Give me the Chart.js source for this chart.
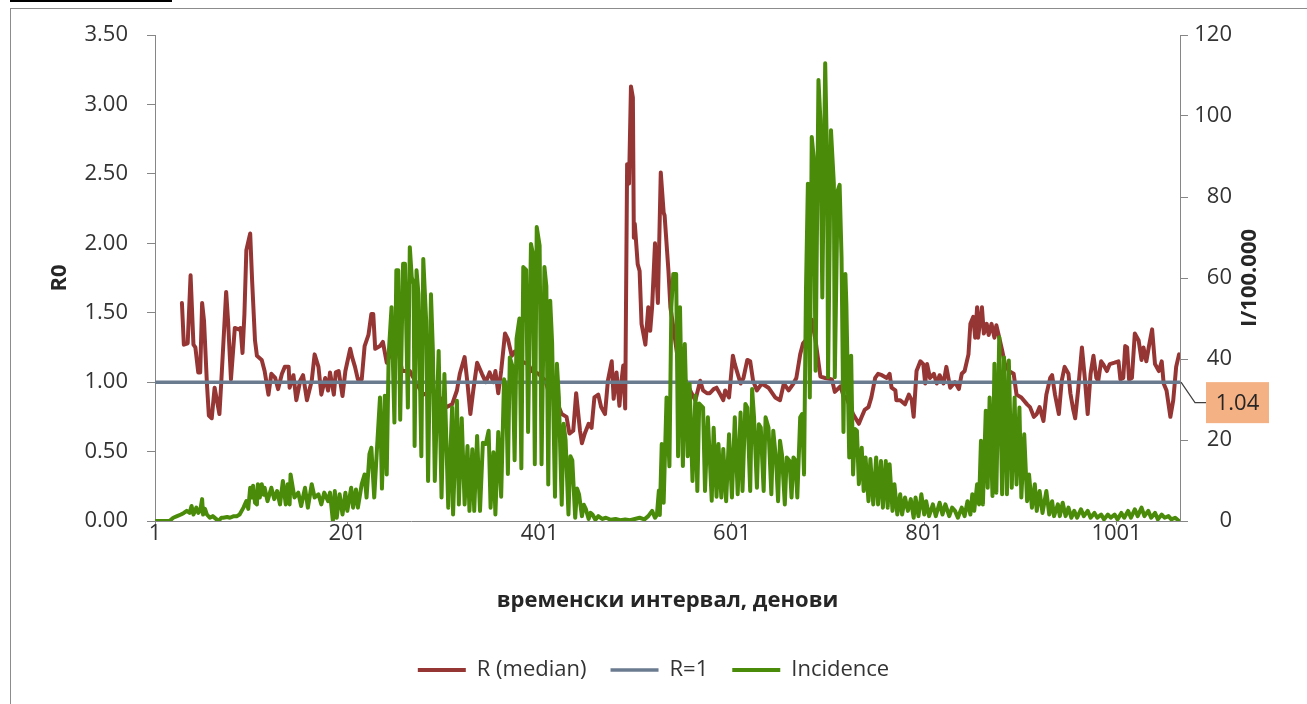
<!DOCTYPE html>
<html>
<head>
<meta charset="utf-8">
<script src="https://cdn.jsdelivr.net/npm/chart.js@4.4.0/dist/chart.umd.min.js"></script>
<style>
  html, body { margin: 0; padding: 0; background: #fff; }
  body { width: 1307px; height: 704px; position: relative; overflow: hidden; }
  #stub { position: absolute; left: 10px; top: 0; width: 162px; height: 2px; background: #000; }
  #frame { position: absolute; left: 10px; top: 8px; width: 1400px; height: 800px;
           border-left: 1px solid #8c8c8c; border-top: 1px solid #8c8c8c; }
  #wrap { position: absolute; left: 0; top: 0; width: 1307px; height: 704px; }
</style>
</head>
<body>
<div id="stub"></div>
<div id="frame"></div>
<div id="wrap"><canvas id="chart"></canvas></div>
<script>
// x axis: days
const xTickLabels = [1, 201, 401, 601, 801, 1001];
const firstDay = 1;
const lastDay = 1067;

// R (median)
const rDays = [
  29, 31, 35, 38, 41, 43, 46, 48, 50, 52,
  55, 57, 60, 63, 68, 70, 75, 77, 80, 84,
  88, 90, 92, 94, 96, 100, 102, 105, 107, 112,
  115, 119, 122, 126, 129, 133, 136, 140, 141, 145,
  148, 152, 155, 159, 164, 167, 171, 174, 178, 181,
  183, 187, 189, 192, 196, 199, 204, 206, 209, 212,
  216, 219, 223, 226, 228, 230, 235, 238, 242, 252,
  258, 266, 273, 280, 290, 297, 304, 310, 315, 318,
  323, 326, 329, 332, 336, 341, 345, 349, 353, 355,
  358, 361, 365, 368, 372, 375, 382, 389, 393, 400,
  407, 410, 417, 424, 429, 432, 436, 439, 443, 445,
  448, 452, 455, 458, 462, 465, 469, 472, 476, 478,
  481, 484, 486, 488, 490, 492, 494, 496, 498, 499,
  500, 503, 505, 507, 511, 514, 516, 518, 521, 524,
  527, 530, 531, 535, 537, 541, 545, 550, 555, 559,
  563, 568, 571, 575, 578, 582, 585, 589, 592, 594,
  598, 602, 604, 610, 613, 617, 620, 623, 627, 632,
  639, 646, 651, 655, 660, 665, 668, 672, 675, 680,
  684, 688, 693, 698, 705, 708, 714, 717, 720, 727,
  733, 736, 739, 743, 746, 750, 753, 757, 762, 765,
  767, 771, 772, 776, 781, 785, 788, 790, 793, 797,
  800, 802, 804, 807, 811, 814, 817, 821, 824, 828,
  833, 837, 840, 843, 847, 849, 852, 854, 856, 857,
  861, 863, 866, 868, 871, 874, 876, 878, 882, 885,
  889, 894, 897, 902, 908, 911, 915, 918, 921, 925,
  928, 932, 934, 937, 941, 944, 947, 951, 953, 956,
  958, 961, 965, 968, 971, 974, 977, 980, 982, 985,
  987, 991, 994, 999, 1003, 1005, 1008, 1010, 1012, 1014,
  1017, 1020, 1024, 1027, 1029, 1032, 1035, 1038, 1041, 1045,
  1048, 1050, 1053, 1057, 1060, 1063, 1066
];
const rValues = [
  1.57, 1.27, 1.28, 1.77, 1.27, 1.25, 1.07, 1.07, 1.57, 1.44,
  0.99, 0.76, 0.74, 0.96, 0.77, 1.01, 1.65, 1.44, 1.02, 1.39,
  1.38, 1.39, 1.21, 1.49, 1.95, 2.07, 1.73, 1.30, 1.19, 1.16,
  1.08, 0.91, 1.06, 1.03, 0.95, 1.06, 1.11, 1.11, 0.96, 1.05,
  0.87, 1.01, 1.05, 0.87, 1.01, 1.20, 1.11, 0.91, 1.03, 0.94,
  1.07, 0.91, 1.07, 1.08, 0.90, 1.08, 1.24, 1.18, 1.11, 1.02,
  1.02, 1.26, 1.34, 1.49, 1.49, 1.24, 1.26, 1.29, 1.14, 1.30,
  1.08, 1.08, 0.99, 0.91, 0.94, 0.89, 0.82, 0.84, 0.94, 1.06,
  1.18, 0.99, 0.77, 0.94, 1.14, 1.06, 1.00, 1.07, 1.00, 1.08,
  0.92, 1.08, 1.35, 1.31, 1.19, 1.22, 1.15, 1.13, 1.08, 1.06,
  1.01, 0.94, 0.89, 0.77, 0.75, 0.63, 0.65, 0.92, 0.65, 0.56,
  0.63, 0.70, 0.67, 0.89, 0.91, 0.82, 0.77, 1.01, 1.15, 0.88,
  1.07, 0.83, 1.00, 1.12, 0.81, 2.57, 2.43, 3.13, 3.05, 2.04,
  2.14, 1.85, 1.80, 1.42, 1.27, 1.54, 1.37, 1.54, 2.00, 1.57,
  2.51, 2.22, 2.20, 1.80, 1.54, 1.35, 1.15, 1.05, 0.98, 0.92,
  0.87, 1.01, 0.94, 0.92, 0.92, 0.95, 0.96, 0.91, 0.87, 0.94,
  0.89, 1.19, 1.13, 0.99, 1.03, 1.16, 1.15, 1.01, 0.94, 0.99,
  0.96, 0.89, 0.87, 0.99, 0.94, 0.99, 1.03, 1.20, 1.28, 1.32,
  1.45, 1.30, 1.04, 1.03, 1.02, 0.93, 0.97, 0.90, 0.89, 0.77,
  0.70, 0.75, 0.80, 0.82, 0.89, 1.03, 1.06, 1.05, 1.03, 1.06,
  0.96, 0.94, 0.87, 0.87, 0.84, 0.91, 0.87, 0.75, 1.08, 1.15,
  1.13, 0.99, 1.13, 1.03, 1.06, 0.99, 1.05, 0.99, 1.11, 0.96,
  1.00, 0.95, 1.06, 1.08, 1.20, 1.42, 1.47, 1.32, 1.54, 1.32,
  1.54, 1.35, 1.42, 1.34, 1.42, 1.32, 1.41, 1.35, 1.23, 1.13,
  1.08, 1.06, 0.91, 0.89, 0.84, 0.82, 0.75, 0.77, 0.82, 0.72,
  0.91, 1.03, 1.05, 0.91, 0.77, 1.01, 1.11, 1.06, 0.92, 0.80,
  0.74, 0.94, 1.25, 1.03, 0.77, 1.06, 1.19, 1.03, 1.01, 1.15,
  1.13, 1.08, 1.13, 1.14, 1.15, 1.02, 1.03, 1.26, 1.25, 1.02,
  1.03, 1.35, 1.30, 1.16, 1.25, 1.15, 1.27, 1.38, 1.13, 1.08,
  1.15, 0.99, 0.94, 0.75, 0.87, 1.11, 1.20
];

// R = 1 reference line
const rOneDays = [1, 1067];
const rOneValues = [1, 1];

// Incidence per 100.000 (right axis)
const incDays = [
  1, 16, 20, 24, 28, 31, 34, 37, 39, 41,
  44, 46, 48, 50, 51, 53, 55, 58, 61, 65,
  67, 70, 72, 76, 79, 83, 86, 89, 93, 96,
  98, 100, 102, 103, 105, 107, 108, 110, 112, 114,
  115, 118, 122, 125, 128, 131, 134, 137, 139, 141,
  142, 146, 150, 153, 157, 160, 164, 167, 171, 174,
  177, 181, 183, 186, 188, 190, 193, 196, 199, 201,
  205, 207, 210, 212, 216, 219, 221, 224, 226, 229,
  232, 235, 237, 240, 242, 244, 247, 250, 252, 254,
  256, 259, 261, 264, 266, 268, 270, 271, 273, 275,
  278, 280, 283, 285, 288, 290, 292, 296, 299, 302,
  306, 310, 311, 315, 317, 320, 323, 326, 328, 331,
  333, 336, 339, 342, 345, 348, 350, 353, 355, 358,
  361, 364, 366, 368, 370, 373, 375, 377, 380, 382,
  384, 387, 389, 392, 394, 396, 398, 401, 403, 406,
  408, 410, 412, 414, 417, 419, 421, 424, 426, 428,
  431, 433, 435, 438, 440, 442, 445, 447, 449, 452,
  454, 456, 459, 462, 466, 470, 475, 480, 485, 490,
  495, 500, 505, 510, 514, 518, 521, 523, 525, 526,
  528, 530, 533, 536, 538, 540, 543, 545, 547, 550,
  552, 555, 557, 560, 563, 565, 567, 571, 573, 576,
  580, 582, 585, 587, 590, 592, 595, 598, 601, 604,
  607, 610, 612, 615, 617, 620, 622, 624, 627, 629,
  631, 634, 636, 639, 642, 644, 647, 649, 651, 653,
  656, 658, 661, 663, 665, 667, 669, 672, 674, 676,
  678, 680, 682, 684, 686, 688, 691, 693, 695, 698,
  700, 701, 704, 707, 708, 711, 713, 715, 717, 719,
  720, 723, 725, 727, 729, 731, 733, 736, 738, 740,
  743, 745, 748, 751, 753, 756, 758, 761, 763, 765,
  768, 770, 773, 776, 778, 781, 784, 787, 790, 792,
  795, 798, 801, 803, 806, 810, 813, 817, 820, 823,
  827, 830, 833, 836, 840, 843, 846, 849, 851, 853,
  856, 858, 860, 862, 865, 867, 869, 872, 874, 876,
  879, 882, 884, 887, 889, 892, 895, 897, 900, 902,
  905, 908, 910, 913, 916, 918, 921, 924, 928, 931,
  934, 936, 940, 942, 945, 948, 951, 954, 957, 960,
  964, 967, 971, 974, 978, 981, 985, 988, 992, 995,
  999, 1002, 1006, 1009, 1013, 1016, 1020, 1023, 1027, 1030,
  1034, 1037, 1041, 1044, 1048, 1051, 1055, 1058, 1062, 1066
];
const incValues = [
  0, 0, 0.8, 1.2, 1.6, 2.0, 2.5, 2.0, 3.7, 1.6,
  3.3, 2.0, 2.5, 5.4, 1.6, 3.0, 1.6, 0.8, 1.2, 0.4,
  0, 0.8, 0.8, 1.0, 0.8, 1.2, 1.2, 1.6, 3.3, 4.9,
  3.0, 8.2, 5.8, 8.7, 4.5, 4.1, 9.1, 5.8, 9.1, 6.5,
  8.2, 4.9, 8.2, 5.4, 7.4, 4.1, 9.9, 4.1, 9.1, 4.1,
  11.5, 5.8, 7.0, 3.7, 8.2, 3.3, 9.1, 5.8, 6.6, 4.1,
  7.0, 4.9, 7.0, 0, 7.4, 0.8, 6.6, 1.6, 7.0, 2.5,
  8.2, 3.3, 7.8, 3.3, 9.1, 11.5, 5.8, 16.5, 18.1, 5.8,
  18.5, 30.5, 8.0, 30.9, 11.5, 41, 52.8, 24.3, 61.9, 61.9,
  25, 63.5, 63.5, 28, 67.6, 60.2, 58.5, 18.5, 61.9, 56,
  16, 64.7, 49.5, 9.9, 56, 42, 9.9, 42, 5.8, 36.3,
  3.3, 28, 1.6, 29.7, 4.1, 25.4, 4.1, 18.5, 2.5, 17.7,
  2.5, 21, 2.5, 19.3, 19, 22.3, 3.3, 17, 1.6, 22,
  6, 35, 33, 11.6, 40.4, 38, 15, 45, 50, 13,
  62.7, 62, 22, 68.4, 66, 14, 72.6, 68, 14, 62.7,
  58, 9, 54.4, 44, 6, 38.8, 30.5, 4, 24, 20,
  1.6, 16, 15, 0.8, 8, 6.6, 1.2, 4, 3, 0.5,
  2, 1.6, 0.3, 1.2, 0.5, 0.8, 0.3, 0.5, 0.2, 0.4,
  0.2, 0.5, 0.8, 0.4, 1.2, 2.5, 0.8, 1.5, 7.5, 1.5,
  19, 4.5, 30.5, 13.5, 52.8, 61, 61, 16, 52.8, 13.6,
  43.7, 16, 33.8, 9.9, 31, 7.4, 29, 28, 7.4, 25.6,
  5, 23, 6, 19, 5.8, 17.8, 4.9, 21.4, 5.8, 25.6,
  6.6, 26.8, 7.4, 28.9, 28, 7.4, 32.6, 25.6, 8.2, 23.9,
  23.1, 7.4, 25.6, 23.1, 6.6, 22.3, 14.8, 4.9, 19.8, 16.5,
  4.1, 15.7, 14.8, 5.8, 15.7, 15, 5.8, 25.6, 26.4, 11.5,
  56.9, 83.3, 30.5, 94.8, 89.9, 37.1, 108.9, 99, 55.2, 113,
  88.2, 35.5, 96.5, 83.3, 35.5, 81.6, 83, 65, 22, 61,
  53.6, 15.7, 40.8, 11.5, 22.7, 22.3, 9.1, 18.1, 7.4, 15.7,
  4.9, 15.3, 4.1, 15.7, 4.1, 14.8, 3.3, 14.8, 3.3, 14,
  2.5, 9.1, 1.6, 6.6, 1.6, 5.8, 2.5, 5.4, 0.8, 5.8,
  1.2, 6.6, 1.6, 4.9, 1.2, 4.1, 1.2, 4.5, 1.6, 4.1,
  1.2, 3.3, 2.5, 0.8, 3.3, 1.2, 4.9, 1.6, 6.6, 2.5,
  9.1, 4.1, 19.8, 4.1, 27.2, 8.2, 30.5, 6.2, 38.8, 7,
  45.4, 6.6, 40.4, 6.6, 39.6, 8.2, 30.5, 9, 28, 5.8,
  21.4, 4.9, 11.5, 3.3, 9.1, 2.5, 7.4, 2, 7.4, 1.6,
  4.9, 1.2, 4.1, 1.2, 4.5, 1.2, 3.3, 0.8, 2.5, 0.8,
  2.9, 1.2, 2.5, 0.8, 2.0, 0.8, 1.6, 0.4, 1.6, 0.8,
  1.6, 0.4, 2.0, 0.8, 2.5, 0.8, 2.9, 1.2, 3.3, 1.2,
  2.5, 0.8, 2.0, 0.4, 1.6, 0.8, 1.2, 0.4, 0.8, 0
];

// value shown in the orange data label
const lastLabel = 1.04;

const fontFamily = '"Open Sans", "Noto Sans", sans-serif';
const axisColor = '#868686';
const textColor = '#333333';

Chart.defaults.font.family = fontFamily;
Chart.defaults.font.size = 22;
Chart.defaults.color = textColor;

function toPoints(days, values) {
    return days.map((d, i) => ({ x: d, y: values[i] }));
}

function drawRotated(ctx, text, x, y) {
    ctx.save();
    ctx.translate(x, y);
    ctx.rotate(-Math.PI / 2);
    ctx.fillText(text, 0, 0);
    ctx.restore();
}

// axis titles on the sides and the data label at the end of R=1
const sideText = {
    id: 'sideText',
    afterDraw(chart) {
        const ctx = chart.ctx;
        const area = chart.chartArea;
        const midY = (area.top + area.bottom) / 2;
        ctx.save();
        ctx.fillStyle = '#262626';
        ctx.font = 'bold 22px ' + fontFamily;
        ctx.textAlign = 'center';
        ctx.textBaseline = 'middle';
        drawRotated(ctx, 'R0', 60, midY);
        drawRotated(ctx, 'I/100.000', 1250, midY);

        const meta = chart.getDatasetMeta(1);
        const pt = meta.data[meta.data.length - 1];
        const boxX = pt.x + 26, boxY = pt.y, boxW = 63, boxH = 41;
        ctx.strokeStyle = '#404040';
        ctx.lineWidth = 1.2;
        ctx.beginPath();
        ctx.moveTo(pt.x + 1, pt.y);
        ctx.lineTo(pt.x + 15, boxY + boxH / 2);
        ctx.lineTo(boxX, boxY + boxH / 2);
        ctx.stroke();
        ctx.fillStyle = '#f4b183';
        ctx.fillRect(boxX, boxY, boxW, boxH);
        ctx.fillStyle = '#262626';
        ctx.font = '22px ' + fontFamily;
        ctx.fillText(lastLabel.toFixed(2), boxX + boxW / 2, boxY + boxH / 2 + 1);
        ctx.restore();
    }
};

const lineStyle = {
    pointRadius: 0,
    tension: 0,
    borderJoinStyle: 'round',
    borderCapStyle: 'round'
};

new Chart(document.getElementById('chart'), {
    type: 'line',
    data: {
        datasets: [
            Object.assign({
                label: 'R (median)',
                data: toPoints(rDays, rValues),
                borderColor: '#963634',
                backgroundColor: '#963634',
                borderWidth: 4,
                yAxisID: 'y',
                order: 3
            }, lineStyle),
            Object.assign({
                label: 'R=1',
                data: toPoints(rOneDays, rOneValues),
                borderColor: '#6b7b8f',
                backgroundColor: '#6b7b8f',
                borderWidth: 3.5,
                yAxisID: 'y',
                order: 2
            }, lineStyle),
            Object.assign({
                label: 'Incidence',
                data: toPoints(incDays, incValues),
                borderColor: '#4a8c0a',
                backgroundColor: '#4a8c0a',
                borderWidth: 4,
                yAxisID: 'y2',
                order: 1
            }, lineStyle)
        ]
    },
    options: {
        responsive: true,
        maintainAspectRatio: false,
        animation: false,
        events: [],
        layout: {
            padding: { left: 75, right: 75, top: 35, bottom: 13 }
        },
        scales: {
            x: {
                type: 'linear',
                min: firstDay,
                max: lastDay,
                afterBuildTicks: (scale) => {
                    scale.ticks = xTickLabels.map(v => ({ value: v }));
                },
                afterFit: (scale) => { scale.height = 114; },
                ticks: {
                    autoSkip: false,
                    maxRotation: 0,
                    padding: -4,
                    color: textColor,
                    callback: (v) => String(v)
                },
                grid: { drawOnChartArea: false, tickLength: 4, color: axisColor },
                border: { color: axisColor, width: 1 },
                title: {
                    display: true,
                    text: 'временски интервал, денови',
                    color: '#262626',
                    font: { weight: 'bold', size: 22 },
                    padding: { top: 0, bottom: 21 }
                }
            },
            y: {
                position: 'left',
                min: 0,
                max: 3.5,
                afterFit: (scale) => { scale.width = 80; },
                ticks: {
                    stepSize: 0.5,
                    padding: 19,
                    color: textColor,
                    callback: (v) => v.toFixed(2)
                },
                grid: { drawOnChartArea: false, tickLength: 8, color: axisColor },
                border: { color: axisColor, width: 1 }
            },
            y2: {
                position: 'right',
                min: 0,
                max: 120,
                afterFit: (scale) => { scale.width = 52; },
                ticks: {
                    stepSize: 20,
                    padding: 6,
                    crossAlign: 'far',
                    color: textColor
                },
                grid: { drawOnChartArea: false, tickLength: 8, color: axisColor },
                border: { color: axisColor, width: 1 }
            }
        },
        plugins: {
            tooltip: { enabled: false },
            legend: {
                position: 'bottom',
                labels: {
                    usePointStyle: true,
                    pointStyle: 'line',
                    pointStyleWidth: 48,
                    padding: 24,
                    color: textColor,
                    font: { size: 22 },
                    sort: (a, b) => a.datasetIndex - b.datasetIndex
                }
            }
        }
    },
    plugins: [sideText]
});
</script>
</body>
</html>
